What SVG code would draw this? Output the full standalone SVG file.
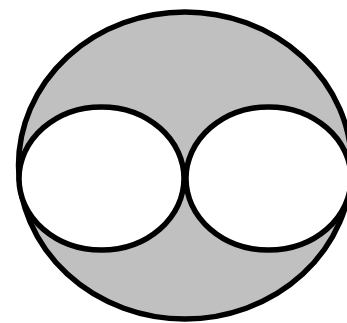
<svg xmlns="http://www.w3.org/2000/svg" width="347" height="323" viewBox="0 0 347 323">
<style>
.s{stroke:#000;stroke-width:5.5}
</style>
<rect width="347" height="323" fill="#fff"/>
<g id="outer"><ellipse class="s" cx="185" cy="165.5" rx="166.5" ry="153.5" fill="#c0c0c0"/></g>
<g id="left"><ellipse class="s" cx="101.5" cy="178.5" rx="82.5" ry="71.5" fill="#fff"/></g>
<g id="right"><ellipse class="s" cx="268.5" cy="178.5" rx="82.5" ry="71.5" fill="#fff"/></g>
</svg>
